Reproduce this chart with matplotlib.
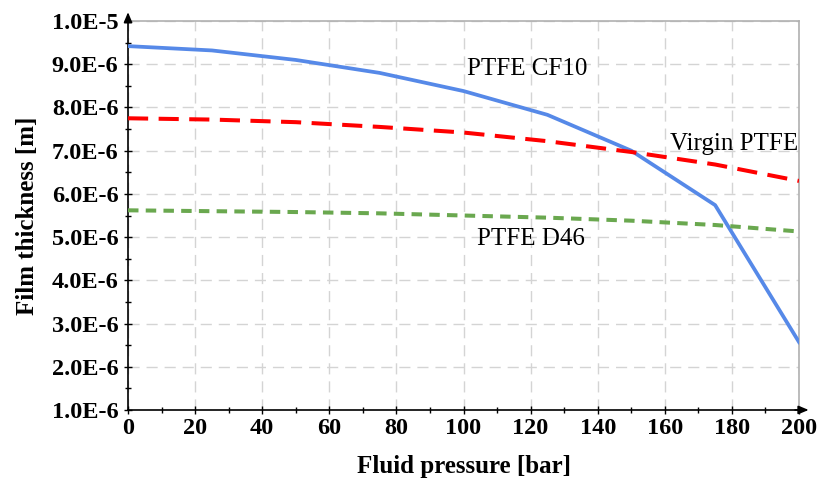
import matplotlib
matplotlib.use("Agg")
import matplotlib.pyplot as plt
from matplotlib.ticker import MultipleLocator, FuncFormatter

# fluid pressure [bar]
pressure = [0, 25, 50, 75, 100, 125, 150, 175, 200]

# film thickness [m]
ptfe_cf10 = [9.42e-6, 9.32e-6, 9.10e-6, 8.80e-6, 8.38e-6, 7.83e-6, 7.00e-6, 5.74e-6, 2.57e-6]
virgin_ptfe = [7.75e-6, 7.72e-6, 7.66e-6, 7.55e-6, 7.42e-6, 7.22e-6, 6.97e-6, 6.68e-6, 6.30e-6]
ptfe_d46 = [5.62e-6, 5.60e-6, 5.58e-6, 5.55e-6, 5.50e-6, 5.45e-6, 5.38e-6, 5.28e-6, 5.13e-6]

plt.rcParams['font.family'] = ['Liberation Serif', 'DejaVu Serif']

fig = plt.figure(figsize=(8.18, 4.84), dpi=100)
ax = fig.add_axes([0.1565, 0.153, 0.8203, 0.8035])

ax.plot(pressure, ptfe_cf10, color="#5689e8", lw=2.7, solid_joinstyle="round", zorder=3)
ax.plot(pressure, virgin_ptfe, color="#ff0000", lw=2.9, dashes=(5, 2.6), zorder=3)
ax.plot(pressure, ptfe_d46, color="#6aa84f", lw=2.9, dashes=(2.6, 1.8), zorder=3)

ax.set_xlim(0, 200)
ax.set_ylim(1e-6, 1e-5)
ax.xaxis.set_major_locator(MultipleLocator(20))
ax.xaxis.set_minor_locator(MultipleLocator(10))
ax.yaxis.set_major_locator(MultipleLocator(1e-6))
ax.yaxis.set_minor_locator(MultipleLocator(5e-7))
ax.yaxis.set_major_formatter(FuncFormatter(
    lambda v, p: "1.0E-5" if abs(v - 1e-5) < 1e-9 else "%.1fE-6" % (v * 1e6)))

ax.grid(True, which="major", color="#d4d4d4", lw=1.0, dashes=(8, 5))
ax.set_axisbelow(True)

for s in ("top", "right"):
    ax.spines[s].set_color("#b0b0b0")
    ax.spines[s].set_linewidth(1.2)
for s in ("left", "bottom"):
    ax.spines[s].set_color("black")
    ax.spines[s].set_linewidth(1.2)

ax.tick_params(which="major", direction="inout", length=6, width=1, labelsize=17.5)
ax.tick_params(which="minor", direction="inout", length=4, width=1)
ax.tick_params(axis="y", pad=4)
ax.tick_params(axis="x", pad=3)
for lab in ax.get_xticklabels() + ax.get_yticklabels():
    lab.set_fontweight("bold")

# axis arrows
ax.annotate("", xy=(1.0185, 0), xytext=(0.99, 0), xycoords="axes fraction",
            arrowprops=dict(arrowstyle="-|>,head_length=0.6,head_width=0.25",
                            color="black", lw=1.2), annotation_clip=False)
ax.annotate("", xy=(0, 1.03), xytext=(0, 0.99), xycoords="axes fraction",
            arrowprops=dict(arrowstyle="-|>,head_length=0.6,head_width=0.25",
                            color="black", lw=1.2), annotation_clip=False)

ax.set_xlabel("Fluid pressure [bar]", fontsize=18, fontweight="bold", labelpad=11)
ax.set_ylabel("Film thickness [m]", fontsize=18, fontweight="bold", labelpad=9)

ax.text(119, 8.88e-6, "PTFE CF10", fontsize=18, ha="center", va="center")
ax.text(180.5, 7.15e-6, "Virgin PTFE", fontsize=18, ha="center", va="center")
ax.text(120, 4.96e-6, "PTFE D46", fontsize=18, ha="center", va="center")

fig.savefig("out.png", dpi=100)
